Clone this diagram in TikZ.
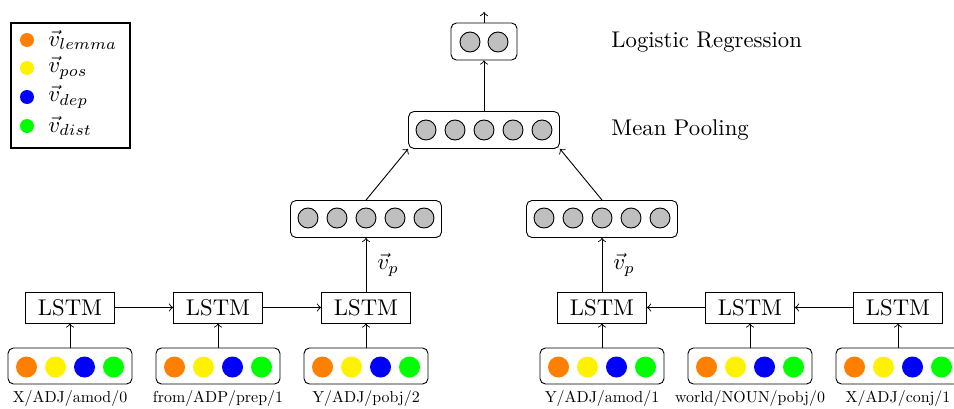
\documentclass[tikz,border=0pt]{standalone}
\usepackage{graphicx}
\begin{document}
\begin{tikzpicture}[x=0.44pt,y=-0.44pt,
  inbox/.style={draw, rounded corners=2.4pt, minimum width={124*0.44pt}, minimum height={36*0.44pt}, inner sep=0pt},
  hidbox/.style={draw, rounded corners=2.4pt, minimum width={#1*0.44pt}, minimum height={37*0.44pt}, inner sep=0pt},
  lstm/.style={draw, minimum width={89*0.44pt}, minimum height={31*0.44pt}, inner sep=0pt},
  feat/.style={circle, fill=#1, minimum size={21*0.44pt}, inner sep=0pt},
  unit/.style={circle, draw, fill=gray!50, minimum size={20*0.44pt}, inner sep=0pt},
  key/.style={circle, fill=#1, minimum size={14*0.44pt}, inner sep=0pt},
  word/.style={inner sep=0pt},
  conn/.style={->},
]
\useasboundingbox (0,0) rectangle (954,408);

% legend
\node[draw, thick, minimum width={119*0.44pt}, minimum height={125*0.44pt}] (legend) at (70.5,85.5) {};
\foreach \c/\s/\y in {orange/lemma/40, yellow/pos/68, blue/dep/97, green/dist/126} {
  \node[key=\c] (key-\s) at (27,\y) {};
  \node[anchor=west, inner sep=0pt] (keytext-\s) at (48,\y) {$\vec{v}_{\s}$};
}

% input feature vectors, LSTM cells and word labels
\foreach \i/\x/\w in {1/70/X\slash ADJ\slash amod\slash 0,
                      2/218/from\slash ADP\slash prep\slash 1,
                      3/366/Y\slash ADJ\slash pobj\slash 2,
                      4/602/Y\slash ADJ\slash amod\slash 1,
                      5/750/world\slash NOUN\slash pobj\slash 0,
                      6/898/X\slash ADJ\slash conj\slash 1} {
  \node[inbox] (in\i) at (\x,366) {};
  \node[feat=orange] (in\i-a) at (\x-43.5,367) {};
  \node[feat=yellow] (in\i-b) at (\x-14.5,367) {};
  \node[feat=blue]   (in\i-c) at (\x+14.5,367) {};
  \node[feat=green]  (in\i-d) at (\x+43.5,367) {};
  \node[word] (w\i) at (\x,399) {\scalebox{0.7}{\w}};
  \node[lstm] (l\i) at (\x,307.5) {LSTM};
  \draw[conn] (in\i) -- (l\i);
}

% recurrent connections
\draw[conn] (l1) -- (l2);
\draw[conn] (l2) -- (l3);
\draw[conn] (l6) -- (l5);
\draw[conn] (l5) -- (l4);

% path representations
\node[hidbox=151] (hl) at (366,219) {};
\node[hidbox=151] (hr) at (602,219) {};
\foreach \k/\dx in {1/-58,2/-29,3/0,4/29,5/58} {
  \node[unit] (hl-\k) at (366+\dx,218) {};
  \node[unit] (hr-\k) at (602+\dx,218) {};
}
\draw[conn] (l3) -- node[right=1.5pt] {$\vec{v}_p$} (hl);
\draw[conn] (l4) -- node[right=1.5pt] {$\vec{v}_p$} (hr);

% mean pooling
\node[hidbox=151] (pool) at (484,130) {};
\foreach \k/\dx in {1/-58,2/-29,3/0,4/29,5/58} {
  \node[unit] (pool-\k) at (484+\dx,130) {};
}
\draw[conn] (hl.north) -- (pool.south west);
\draw[conn] (hr.north) -- (pool.south east);

% logistic regression
\node[hidbox=66] (lr) at (484,41.5) {};
\node[unit] (lr-1) at (470,42) {};
\node[unit] (lr-2) at (498,42) {};
\draw[conn] (pool) -- (lr);
\coordinate (out) at (484,12);
\draw[conn] (lr) -- (out);

\node[anchor=west, inner sep=0pt] (lrtext) at (611,42) {Logistic Regression};
\node[anchor=west, inner sep=0pt] (pooltext) at (611,130) {Mean Pooling};
\end{tikzpicture}
\end{document}
